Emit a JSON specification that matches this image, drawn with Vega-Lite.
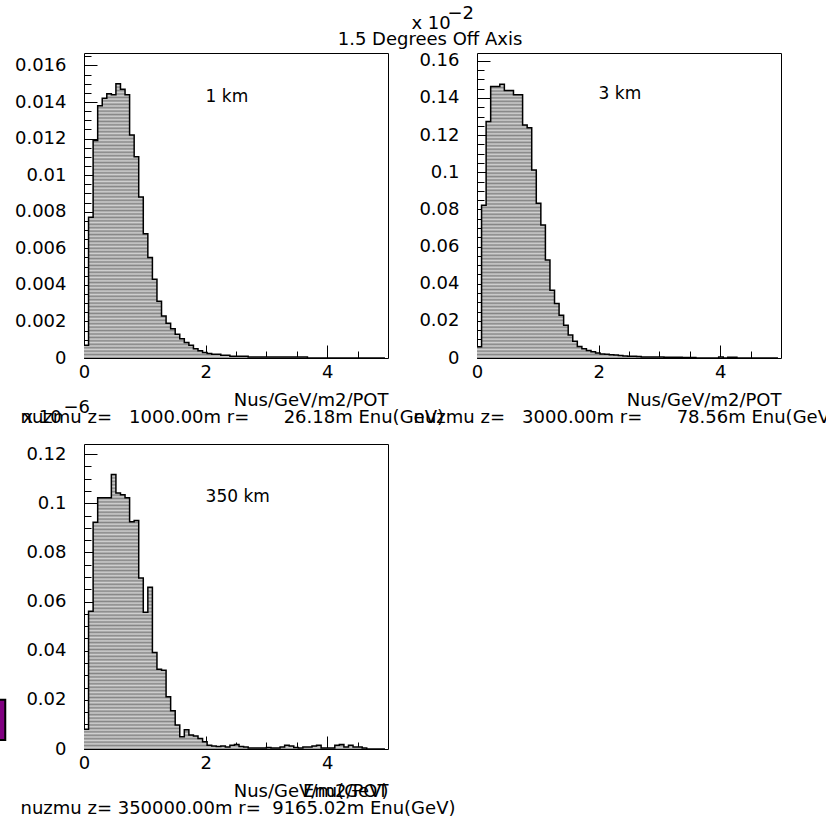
{
  "$schema": "https://vega.github.io/schema/vega-lite/v6.json",
  "autosize": {"type": "none"},
  "padding": {"left": 84, "top": 53, "right": 742, "bottom": 765},
  "background": "white",
  "title": {"text": "1.5 Degrees Off Axis", "anchor": "middle", "frame": "group", "offset": -45, "dx": 346},
  "datasets": {
    "p1": [
      {"e":0,"v":0.0007},{"e":0.075,"v":0.0077},{"e":0.15,"v":0.0119},{"e":0.225,"v":0.0138},{"e":0.3,"v":0.0142},{"e":0.375,"v":0.01445},{"e":0.45,"v":0.0144},{"e":0.525,"v":0.015},{"e":0.6,"v":0.0147},{"e":0.675,"v":0.0144},
      {"e":0.75,"v":0.0122},{"e":0.825,"v":0.011},{"e":0.9,"v":0.0088},{"e":0.975,"v":0.0068},{"e":1.05,"v":0.0055},{"e":1.125,"v":0.0043},{"e":1.2,"v":0.0031},{"e":1.275,"v":0.0023},{"e":1.35,"v":0.0019},{"e":1.425,"v":0.0016},
      {"e":1.5,"v":0.0013},{"e":1.575,"v":0.00105},{"e":1.65,"v":0.00085},{"e":1.725,"v":0.0007},{"e":1.8,"v":0.0005},{"e":1.875,"v":0.0004},{"e":1.95,"v":0.0003},{"e":2.025,"v":0.00025},{"e":2.1,"v":0.0002},{"e":2.175,"v":0.0002},
      {"e":2.25,"v":0.00015},{"e":2.325,"v":0.00015},{"e":2.4,"v":0.0001},{"e":2.475,"v":0.0001},{"e":2.55,"v":0.0001},{"e":2.625,"v":0.0001},{"e":2.7,"v":0.00005},{"e":2.775,"v":0.00005},{"e":2.85,"v":0.00005},{"e":2.925,"v":0.00005},
      {"e":3.0,"v":0.00005},{"e":3.075,"v":0.00005},{"e":3.15,"v":0.00005},{"e":3.225,"v":0.00005},{"e":3.3,"v":0.00005},{"e":3.375,"v":0.00005},{"e":3.45,"v":0.00005},{"e":3.525,"v":0.00005},{"e":3.6,"v":0.00005},{"e":3.675,"v":0},
      {"e":3.75,"v":0},{"e":3.825,"v":0},{"e":3.9,"v":0},{"e":3.975,"v":0},{"e":4.05,"v":0},{"e":4.125,"v":0},{"e":4.2,"v":0},{"e":4.275,"v":0},{"e":4.35,"v":0},{"e":4.425,"v":0},
      {"e":4.5,"v":0},{"e":4.575,"v":0},{"e":4.65,"v":0},{"e":4.725,"v":0},{"e":4.8,"v":0},{"e":4.875,"v":0},{"e":4.95,"v":0}
    ],
    "p2": [
      {"e":0,"v":0.006},{"e":0.075,"v":0.0823},{"e":0.15,"v":0.1273},{"e":0.225,"v":0.1461},{"e":0.3,"v":0.1461},{"e":0.375,"v":0.1474},{"e":0.45,"v":0.144},{"e":0.525,"v":0.144},{"e":0.6,"v":0.1417},{"e":0.675,"v":0.1417},
      {"e":0.75,"v":0.1255},{"e":0.825,"v":0.124},{"e":0.9,"v":0.1012},{"e":0.975,"v":0.0833},{"e":1.05,"v":0.0716},{"e":1.125,"v":0.0527},{"e":1.2,"v":0.0365},{"e":1.275,"v":0.0293},{"e":1.35,"v":0.023},{"e":1.425,"v":0.0176},
      {"e":1.5,"v":0.0124},{"e":1.575,"v":0.009},{"e":1.65,"v":0.0062},{"e":1.725,"v":0.005},{"e":1.8,"v":0.004},{"e":1.875,"v":0.0033},{"e":1.95,"v":0.0027},{"e":2.025,"v":0.0022},{"e":2.1,"v":0.002},{"e":2.175,"v":0.0018},
      {"e":2.25,"v":0.0016},{"e":2.325,"v":0.0013},{"e":2.4,"v":0.0011},{"e":2.475,"v":0.001},{"e":2.55,"v":0.0009},{"e":2.625,"v":0.0008},{"e":2.7,"v":0.0006},{"e":2.775,"v":0.0006},{"e":2.85,"v":0.0006},{"e":2.925,"v":0.0005},
      {"e":3.0,"v":0.0005},{"e":3.075,"v":0.0004},{"e":3.15,"v":0.0004},{"e":3.225,"v":0.0004},{"e":3.3,"v":0.0004},{"e":3.375,"v":0.0003},{"e":3.45,"v":0.0003},{"e":3.525,"v":0.0003},{"e":3.6,"v":0},{"e":3.675,"v":0},
      {"e":3.75,"v":0},{"e":3.825,"v":0},{"e":3.9,"v":0},{"e":3.975,"v":0.0005},{"e":4.05,"v":0},{"e":4.125,"v":0.0004},{"e":4.2,"v":0.0004},{"e":4.275,"v":0},{"e":4.35,"v":0},{"e":4.425,"v":0},
      {"e":4.5,"v":0},{"e":4.575,"v":0},{"e":4.65,"v":0},{"e":4.725,"v":0},{"e":4.8,"v":0},{"e":4.875,"v":0},{"e":4.95,"v":0}
    ],
    "p3": [
      {"e":0,"v":0.008},{"e":0.075,"v":0.056},{"e":0.15,"v":0.0923},{"e":0.225,"v":0.1022},{"e":0.3,"v":0.1022},{"e":0.375,"v":0.1022},{"e":0.45,"v":0.1117},{"e":0.525,"v":0.1042},{"e":0.6,"v":0.1035},{"e":0.675,"v":0.1022},
      {"e":0.75,"v":0.0925},{"e":0.825,"v":0.093},{"e":0.9,"v":0.0696},{"e":0.975,"v":0.0556},{"e":1.05,"v":0.0658},{"e":1.125,"v":0.0393},{"e":1.2,"v":0.0325},{"e":1.275,"v":0.032},{"e":1.35,"v":0.0213},{"e":1.425,"v":0.0156},
      {"e":1.5,"v":0.0098},{"e":1.575,"v":0.005},{"e":1.65,"v":0.0078},{"e":1.725,"v":0.0057},{"e":1.8,"v":0.0053},{"e":1.875,"v":0.0043},{"e":1.95,"v":0.003},{"e":2.025,"v":0.0015},{"e":2.1,"v":0.0012},{"e":2.175,"v":0.001},
      {"e":2.25,"v":0.0012},{"e":2.325,"v":0.0008},{"e":2.4,"v":0.0015},{"e":2.475,"v":0.0018},{"e":2.55,"v":0.001},{"e":2.625,"v":0.0008},{"e":2.7,"v":0.0004},{"e":2.775,"v":0.0004},{"e":2.85,"v":0.0004},{"e":2.925,"v":0.0004},
      {"e":3.0,"v":0.0006},{"e":3.075,"v":0.0004},{"e":3.15,"v":0.0004},{"e":3.225,"v":0.0008},{"e":3.3,"v":0.0015},{"e":3.375,"v":0.0012},{"e":3.45,"v":0.0006},{"e":3.525,"v":0.0004},{"e":3.6,"v":0.0008},{"e":3.675,"v":0.0008},
      {"e":3.75,"v":0.0012},{"e":3.825,"v":0.0015},{"e":3.9,"v":0.0004},{"e":3.975,"v":0.0004},{"e":4.05,"v":0.0004},{"e":4.125,"v":0.0015},{"e":4.2,"v":0.0018},{"e":4.275,"v":0.0008},{"e":4.35,"v":0.0015},{"e":4.425,"v":0.0008},
      {"e":4.5,"v":0.0008},{"e":4.575,"v":0.0004},{"e":4.65,"v":0},{"e":4.725,"v":0},{"e":4.8,"v":0},{"e":4.875,"v":0},{"e":4.95,"v":0}
    ]
  },
  "columns": 2,
  "spacing": {"row": 86, "column": 89},
  "bounds": "flush",
  "concat": [
    {
      "width": 304, "height": 305,
      "data": {"name": "p1"},
      "resolve": {"axis": {"x": "independent", "y": "independent"}},
      "layer": [
        {
          "mark": {"type": "area", "interpolate": "step-after"},
          "encoding": {
            "x": {"field": "e", "type": "quantitative", "scale": {"domain": [0, 5], "nice": false, "zero": true},
              "axis": {"orient": "bottom", "values": [0, 2, 4], "tickSize": -13, "format": "~g", "labelPadding": 18, "labelFlush": false, "title": "Nus/GeV/m2/POT", "titleAnchor": "end", "titleAlign": "right", "titleX": 304, "titleY": 47, "titleBaseline": "alphabetic"}},
            "y": {"field": "v", "type": "quantitative", "scale": {"domain": [0, 0.01668], "nice": false},
              "axis": {"orient": "left", "values": [0,0.002,0.004,0.006,0.008,0.01,0.012,0.014,0.016], "tickSize": -13, "format": "~g", "labelPadding": 31, "labelFlush": false,
                "title": "x 10", "titleAngle": 0, "titleAlign": "left", "titleBaseline": "alphabetic", "titleX": -62, "titleY": 369}}
          }
        },
        {
          "mark": {"type": "line", "interpolate": "step-after", "color": "black", "strokeWidth": 1.5},
          "encoding": {
            "x": {"field": "e", "type": "quantitative",
              "axis": {"orient": "bottom", "values": [0.5,1,1.5,2.5,3,3.5,4.5], "tickSize": -7, "labels": false, "title": null}},
            "y": {"field": "v", "type": "quantitative",
              "axis": {"orient": "left", "values": [0.0005,0.001,0.0015,0.0025,0.003,0.0035,0.0045,0.005,0.0055,0.0065,0.007,0.0075,0.0085,0.009,0.0095,0.0105,0.011,0.0115,0.0125,0.013,0.0135,0.0145,0.015,0.0155,0.0165], "tickSize": -7, "labels": false,
                "title": "\u22126", "titleAngle": 0, "titleAlign": "left", "titleBaseline": "alphabetic", "titleX": -21, "titleY": 359}}
          }
        },
        {
          "data": {"values": [{"label": "1 km"}]},
          "mark": {"type": "text", "align": "left", "baseline": "middle", "fontSize": 17, "color": "black"},
          "encoding": {
            "x": {"datum": 2, "type": "quantitative", "axis": {"orient": "bottom", "labels": false, "ticks": false, "title": "nuzmu z=\u00a0\u00a0\u00a01000.00m r=\u00a0\u00a0\u00a0\u00a0\u00a0\u00a026.18m Enu(GeV)", "titleAnchor": "start", "titleAlign": "left", "titleX": -64, "titleY": 64, "titleBaseline": "alphabetic"}},
            "y": {"datum": 0.0143, "type": "quantitative", "axis": null},
            "text": {"field": "label"}
          }
        }
      ]
    },
    {
      "width": 304, "height": 305,
      "data": {"name": "p2"},
      "resolve": {"axis": {"x": "independent", "y": "independent"}},
      "layer": [
        {
          "mark": {"type": "area", "interpolate": "step-after"},
          "encoding": {
            "x": {"field": "e", "type": "quantitative", "scale": {"domain": [0, 5], "nice": false, "zero": true},
              "axis": {"orient": "bottom", "values": [0, 2, 4], "tickSize": -13, "format": "~g", "labelPadding": 18, "labelFlush": false, "title": "Nus/GeV/m2/POT", "titleAnchor": "end", "titleAlign": "right", "titleX": 304, "titleY": 47, "titleBaseline": "alphabetic"}},
            "y": {"field": "v", "type": "quantitative", "scale": {"domain": [0, 0.1642], "nice": false},
              "axis": {"orient": "left", "values": [0,0.02,0.04,0.06,0.08,0.1,0.12,0.14,0.16], "tickSize": -13, "format": "~g", "labelPadding": 31, "labelFlush": false,
                "title": "x 10", "titleAngle": 0, "titleAlign": "left", "titleBaseline": "alphabetic", "titleX": -66, "titleY": -25}}
          }
        },
        {
          "mark": {"type": "line", "interpolate": "step-after", "color": "black", "strokeWidth": 1.5},
          "encoding": {
            "x": {"field": "e", "type": "quantitative",
              "axis": {"orient": "bottom", "values": [0.5,1,1.5,2.5,3,3.5,4.5], "tickSize": -7, "labels": false, "title": null}},
            "y": {"field": "v", "type": "quantitative",
              "axis": {"orient": "left", "values": [0.005,0.01,0.015,0.025,0.03,0.035,0.045,0.05,0.055,0.065,0.07,0.075,0.085,0.09,0.095,0.105,0.11,0.115,0.125,0.13,0.135,0.145,0.15,0.155], "tickSize": -7, "labels": false,
                "title": "\u22122", "titleAngle": 0, "titleAlign": "left", "titleBaseline": "alphabetic", "titleX": -30, "titleY": -35}}
          }
        },
        {
          "data": {"values": [{"label": "3 km"}]},
          "mark": {"type": "text", "align": "left", "baseline": "middle", "fontSize": 17, "color": "black"},
          "encoding": {
            "x": {"datum": 2, "type": "quantitative", "axis": {"orient": "bottom", "labels": false, "ticks": false, "title": "nuzmu z=\u00a0\u00a0\u00a03000.00m r=\u00a0\u00a0\u00a0\u00a0\u00a0\u00a078.56m Enu(GeV)", "titleAnchor": "start", "titleAlign": "left", "titleX": -64, "titleY": 64, "titleBaseline": "alphabetic"}},
            "y": {"datum": 0.1422, "type": "quantitative", "axis": null},
            "text": {"field": "label"}
          }
        }
      ]
    },
    {
      "width": 304, "height": 305,
      "data": {"name": "p3"},
      "resolve": {"axis": {"x": "independent", "y": "independent"}},
      "layer": [
        {
          "mark": {"type": "area", "interpolate": "step-after"},
          "encoding": {
            "x": {"field": "e", "type": "quantitative", "scale": {"domain": [0, 5], "nice": false, "zero": true},
              "axis": {"orient": "bottom", "values": [0, 2, 4], "tickSize": -13, "format": "~g", "labelPadding": 18, "labelFlush": false, "title": "Nus/GeV/m2/POT", "titleAnchor": "end", "titleAlign": "right", "titleX": 304, "titleY": 47, "titleBaseline": "alphabetic"}},
            "y": {"field": "v", "type": "quantitative", "scale": {"domain": [0, 0.1241], "nice": false},
              "axis": {"orient": "left", "values": [0,0.02,0.04,0.06,0.08,0.1,0.12], "tickSize": -13, "format": "~g", "labelPadding": 31, "labelFlush": false, "title": null}}
          }
        },
        {
          "mark": {"type": "line", "interpolate": "step-after", "color": "black", "strokeWidth": 1.5},
          "encoding": {
            "x": {"field": "e", "type": "quantitative",
              "axis": {"orient": "bottom", "values": [0.5,1,1.5,2.5,3,3.5,4.5], "tickSize": -7, "labels": false, "title": "Enu(GeV)", "titleAnchor": "end", "titleAlign": "right", "titleX": 304, "titleY": 47, "titleBaseline": "alphabetic"}},
            "y": {"field": "v", "type": "quantitative",
              "axis": {"orient": "left", "values": [0.005,0.01,0.015,0.025,0.03,0.035,0.045,0.05,0.055,0.065,0.07,0.075,0.085,0.09,0.095,0.105,0.11,0.115], "tickSize": -7, "labels": false, "title": null}}
          }
        },
        {
          "data": {"values": [{"label": "350 km"}]},
          "mark": {"type": "text", "align": "left", "baseline": "middle", "fontSize": 17, "color": "black"},
          "encoding": {
            "x": {"datum": 2, "type": "quantitative", "axis": {"orient": "bottom", "labels": false, "ticks": false, "title": "nuzmu z= 350000.00m r=\u00a0\u00a09165.02m Enu(GeV)", "titleAnchor": "start", "titleAlign": "left", "titleX": -64, "titleY": 64, "titleBaseline": "alphabetic"}},
            "y": {"datum": 0.1025, "type": "quantitative", "axis": null},
            "text": {"field": "label"}
          }
        },
        {
          "data": {"values": [{"item": "marker"}]},
          "mark": {"type": "rect", "color": "#800080", "stroke": "black", "strokeWidth": 2},
          "encoding": {
            "x": {"datum": -1.45, "type": "quantitative", "axis": null},
            "x2": {"datum": -1.295},
            "y": {"datum": 0.0200, "type": "quantitative", "axis": null},
            "y2": {"datum": 0.0037}
          }
        }
      ]
    }
  ],
  "config": {
    "font": "DejaVu Sans",
    "view": {"stroke": "black", "strokeWidth": 1},
    "area": {"color": {"gradient": "linear", "x1": 0, "y1": 0, "x2": 0, "y2": 1, "stops": [
      {"offset":0,"color":"#858585"},{"offset":0.00625,"color":"#d2d2d2"},{"offset":0.0125,"color":"#858585"},{"offset":0.01875,"color":"#d2d2d2"},{"offset":0.025,"color":"#858585"},{"offset":0.03125,"color":"#d2d2d2"},{"offset":0.0375,"color":"#858585"},{"offset":0.04375,"color":"#d2d2d2"},{"offset":0.05,"color":"#858585"},{"offset":0.05625,"color":"#d2d2d2"},{"offset":0.0625,"color":"#858585"},{"offset":0.06875,"color":"#d2d2d2"},{"offset":0.075,"color":"#858585"},{"offset":0.08125,"color":"#d2d2d2"},{"offset":0.0875,"color":"#858585"},{"offset":0.09375,"color":"#d2d2d2"},
      {"offset":0.1,"color":"#858585"},{"offset":0.10625,"color":"#d2d2d2"},{"offset":0.1125,"color":"#858585"},{"offset":0.11875,"color":"#d2d2d2"},{"offset":0.125,"color":"#858585"},{"offset":0.13125,"color":"#d2d2d2"},{"offset":0.1375,"color":"#858585"},{"offset":0.14375,"color":"#d2d2d2"},{"offset":0.15,"color":"#858585"},{"offset":0.15625,"color":"#d2d2d2"},{"offset":0.1625,"color":"#858585"},{"offset":0.16875,"color":"#d2d2d2"},{"offset":0.175,"color":"#858585"},{"offset":0.18125,"color":"#d2d2d2"},{"offset":0.1875,"color":"#858585"},{"offset":0.19375,"color":"#d2d2d2"},
      {"offset":0.2,"color":"#858585"},{"offset":0.20625,"color":"#d2d2d2"},{"offset":0.2125,"color":"#858585"},{"offset":0.21875,"color":"#d2d2d2"},{"offset":0.225,"color":"#858585"},{"offset":0.23125,"color":"#d2d2d2"},{"offset":0.2375,"color":"#858585"},{"offset":0.24375,"color":"#d2d2d2"},{"offset":0.25,"color":"#858585"},{"offset":0.25625,"color":"#d2d2d2"},{"offset":0.2625,"color":"#858585"},{"offset":0.26875,"color":"#d2d2d2"},{"offset":0.275,"color":"#858585"},{"offset":0.28125,"color":"#d2d2d2"},{"offset":0.2875,"color":"#858585"},{"offset":0.29375,"color":"#d2d2d2"},
      {"offset":0.3,"color":"#858585"},{"offset":0.30625,"color":"#d2d2d2"},{"offset":0.3125,"color":"#858585"},{"offset":0.31875,"color":"#d2d2d2"},{"offset":0.325,"color":"#858585"},{"offset":0.33125,"color":"#d2d2d2"},{"offset":0.3375,"color":"#858585"},{"offset":0.34375,"color":"#d2d2d2"},{"offset":0.35,"color":"#858585"},{"offset":0.35625,"color":"#d2d2d2"},{"offset":0.3625,"color":"#858585"},{"offset":0.36875,"color":"#d2d2d2"},{"offset":0.375,"color":"#858585"},{"offset":0.38125,"color":"#d2d2d2"},{"offset":0.3875,"color":"#858585"},{"offset":0.39375,"color":"#d2d2d2"},
      {"offset":0.4,"color":"#858585"},{"offset":0.40625,"color":"#d2d2d2"},{"offset":0.4125,"color":"#858585"},{"offset":0.41875,"color":"#d2d2d2"},{"offset":0.425,"color":"#858585"},{"offset":0.43125,"color":"#d2d2d2"},{"offset":0.4375,"color":"#858585"},{"offset":0.44375,"color":"#d2d2d2"},{"offset":0.45,"color":"#858585"},{"offset":0.45625,"color":"#d2d2d2"},{"offset":0.4625,"color":"#858585"},{"offset":0.46875,"color":"#d2d2d2"},{"offset":0.475,"color":"#858585"},{"offset":0.48125,"color":"#d2d2d2"},{"offset":0.4875,"color":"#858585"},{"offset":0.49375,"color":"#d2d2d2"},
      {"offset":0.5,"color":"#858585"},{"offset":0.50625,"color":"#d2d2d2"},{"offset":0.5125,"color":"#858585"},{"offset":0.51875,"color":"#d2d2d2"},{"offset":0.525,"color":"#858585"},{"offset":0.53125,"color":"#d2d2d2"},{"offset":0.5375,"color":"#858585"},{"offset":0.54375,"color":"#d2d2d2"},{"offset":0.55,"color":"#858585"},{"offset":0.55625,"color":"#d2d2d2"},{"offset":0.5625,"color":"#858585"},{"offset":0.56875,"color":"#d2d2d2"},{"offset":0.575,"color":"#858585"},{"offset":0.58125,"color":"#d2d2d2"},{"offset":0.5875,"color":"#858585"},{"offset":0.59375,"color":"#d2d2d2"},
      {"offset":0.6,"color":"#858585"},{"offset":0.60625,"color":"#d2d2d2"},{"offset":0.6125,"color":"#858585"},{"offset":0.61875,"color":"#d2d2d2"},{"offset":0.625,"color":"#858585"},{"offset":0.63125,"color":"#d2d2d2"},{"offset":0.6375,"color":"#858585"},{"offset":0.64375,"color":"#d2d2d2"},{"offset":0.65,"color":"#858585"},{"offset":0.65625,"color":"#d2d2d2"},{"offset":0.6625,"color":"#858585"},{"offset":0.66875,"color":"#d2d2d2"},{"offset":0.675,"color":"#858585"},{"offset":0.68125,"color":"#d2d2d2"},{"offset":0.6875,"color":"#858585"},{"offset":0.69375,"color":"#d2d2d2"},
      {"offset":0.7,"color":"#858585"},{"offset":0.70625,"color":"#d2d2d2"},{"offset":0.7125,"color":"#858585"},{"offset":0.71875,"color":"#d2d2d2"},{"offset":0.725,"color":"#858585"},{"offset":0.73125,"color":"#d2d2d2"},{"offset":0.7375,"color":"#858585"},{"offset":0.74375,"color":"#d2d2d2"},{"offset":0.75,"color":"#858585"},{"offset":0.75625,"color":"#d2d2d2"},{"offset":0.7625,"color":"#858585"},{"offset":0.76875,"color":"#d2d2d2"},{"offset":0.775,"color":"#858585"},{"offset":0.78125,"color":"#d2d2d2"},{"offset":0.7875,"color":"#858585"},{"offset":0.79375,"color":"#d2d2d2"},
      {"offset":0.8,"color":"#858585"},{"offset":0.80625,"color":"#d2d2d2"},{"offset":0.8125,"color":"#858585"},{"offset":0.81875,"color":"#d2d2d2"},{"offset":0.825,"color":"#858585"},{"offset":0.83125,"color":"#d2d2d2"},{"offset":0.8375,"color":"#858585"},{"offset":0.84375,"color":"#d2d2d2"},{"offset":0.85,"color":"#858585"},{"offset":0.85625,"color":"#d2d2d2"},{"offset":0.8625,"color":"#858585"},{"offset":0.86875,"color":"#d2d2d2"},{"offset":0.875,"color":"#858585"},{"offset":0.88125,"color":"#d2d2d2"},{"offset":0.8875,"color":"#858585"},{"offset":0.89375,"color":"#d2d2d2"},
      {"offset":0.9,"color":"#858585"},{"offset":0.90625,"color":"#d2d2d2"},{"offset":0.9125,"color":"#858585"},{"offset":0.91875,"color":"#d2d2d2"},{"offset":0.925,"color":"#858585"},{"offset":0.93125,"color":"#d2d2d2"},{"offset":0.9375,"color":"#858585"},{"offset":0.94375,"color":"#d2d2d2"},{"offset":0.95,"color":"#858585"},{"offset":0.95625,"color":"#d2d2d2"},{"offset":0.9625,"color":"#858585"},{"offset":0.96875,"color":"#d2d2d2"},{"offset":0.975,"color":"#858585"},{"offset":0.98125,"color":"#d2d2d2"},{"offset":0.9875,"color":"#858585"},{"offset":0.99375,"color":"#d2d2d2"},
      {"offset":1,"color":"#858585"}
    ]}},
    "axis": {"zindex": 1, "labelFont": "DejaVu Sans", "labelFontSize": 18, "labelColor": "black", "labelOverlap": false, "titleFont": "DejaVu Sans", "titleFontSize": 18, "titleFontWeight": "normal", "titleColor": "black", "tickColor": "black", "tickWidth": 1, "grid": false, "domain": false},
    "title": {"font": "DejaVu Sans", "fontSize": 18, "fontWeight": "normal", "color": "black"}
  }
}
